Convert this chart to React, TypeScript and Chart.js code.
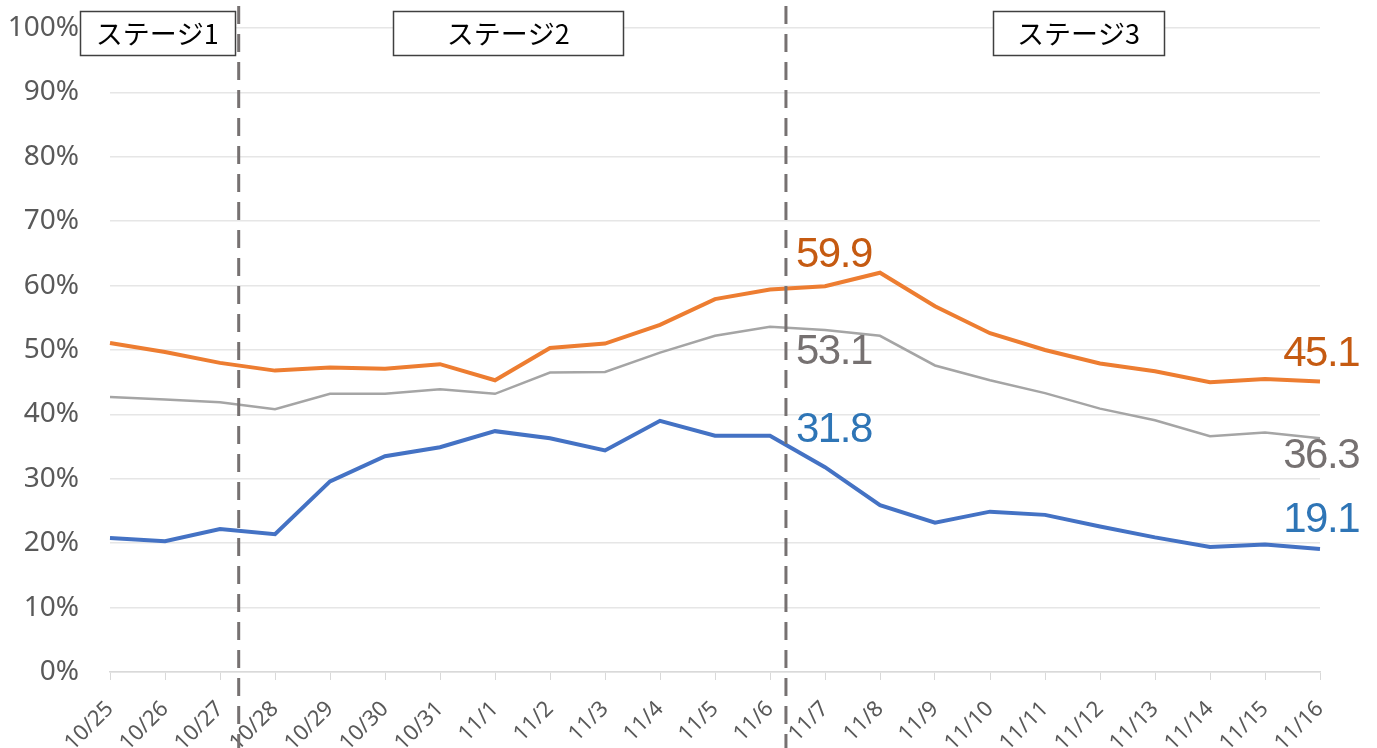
import React, { useEffect, useRef } from "react";
import { Chart, registerables } from "chart.js";

Chart.register(...registerables);

const categories = [
  "10/25", "10/26", "10/27", "10/28", "10/29", "10/30", "10/31",
  "11/1", "11/2", "11/3", "11/4", "11/5", "11/6", "11/7", "11/8",
  "11/9", "11/10", "11/11", "11/12", "11/13", "11/14", "11/15", "11/16",
];

const orangeValues = [
  51.1, 49.7, 48.0, 46.8, 47.3, 47.1, 47.8, 45.3, 50.3, 51.0, 53.9, 57.9,
  59.4, 59.9, 62.0, 56.8, 52.6, 50.0, 47.9, 46.7, 45.0, 45.5, 45.1,
];

const grayValues = [
  42.7, 42.3, 41.9, 40.8, 43.2, 43.2, 43.9, 43.2, 46.5, 46.6, 49.6, 52.2,
  53.6, 53.1, 52.2, 47.6, 45.3, 43.3, 40.9, 39.1, 36.6, 37.2, 36.3,
];

const blueValues = [
  20.8, 20.3, 22.2, 21.4, 29.6, 33.5, 34.9, 37.4, 36.3, 34.4, 39.0, 36.7,
  36.7, 31.8, 25.9, 23.2, 24.9, 24.4, 22.6, 20.9, 19.4, 19.8, 19.1,
];

const stageLabels = ["ステージ1", "ステージ2", "ステージ3"];

const calloutIndex = 13;
const lastIndex = categories.length - 1;

const overlayPlugin = {
  id: "overlay",
  afterDraw(chart: any) {
    const ctx = chart.ctx;
    const xs = chart.scales.x;
    const ys = chart.scales.y;
    ctx.save();

    // dashed stage dividers
    const dividers = [2.34, 12.29];
    ctx.strokeStyle = "#767171";
    ctx.lineWidth = 3;
    ctx.setLineDash([18, 10]);
    dividers.forEach((d) => {
      const x = xs.getPixelForValue(d);
      ctx.beginPath();
      ctx.moveTo(x, 6);
      ctx.lineTo(x, chart.height);
      ctx.stroke();
    });
    ctx.setLineDash([]);

    // stage boxes
    const boxes = [
      { c: 0.86, w: 155 },
      { c: 7.24, w: 230 },
      { c: 17.61, w: 171 },
    ];
    ctx.font = '27px "Noto Sans CJK JP"';
    ctx.textAlign = "center";
    ctx.textBaseline = "middle";
    boxes.forEach((b, i) => {
      const cx = xs.getPixelForValue(b.c);
      const x0 = Math.round(cx - b.w / 2) + 0.5;
      ctx.fillStyle = "#ffffff";
      ctx.fillRect(x0, 11.5, b.w, 44);
      ctx.strokeStyle = "#404040";
      ctx.lineWidth = 1.5;
      ctx.strokeRect(x0, 11.5, b.w, 44);
      ctx.fillStyle = "#000000";
      ctx.fillText(stageLabels[i], cx, 34);
    });

    // value callouts
    ctx.font = '42px "Liberation Sans"';
    (ctx as any).letterSpacing = "-1.5px";
    ctx.textBaseline = "alphabetic";
    const xc = xs.getPixelForValue(calloutIndex);
    const xl = xs.getPixelForValue(lastIndex);
    const callouts = [
      { v: orangeValues, color: "#C55A11", d1: -19, d2: -16 },
      { v: grayValues, color: "#767171", d1: 34, d2: 30 },
      { v: blueValues, color: "#2E75B6", d1: -25, d2: -17 },
    ];
    callouts.forEach((c) => {
      ctx.fillStyle = c.color;
      ctx.textAlign = "left";
      const y1 = ys.getPixelForValue(c.v[calloutIndex]) + c.d1;
      ctx.fillText(c.v[calloutIndex].toFixed(1), xc - 29, y1);
      ctx.textAlign = "right";
      const y2 = ys.getPixelForValue(c.v[lastIndex]) + c.d2;
      ctx.fillText(c.v[lastIndex].toFixed(1), xl + 39, y2);
    });
    ctx.restore();
  },
};

export default function App() {
  const ref = useRef<HTMLCanvasElement>(null);

  useEffect(() => {
    document.body.style.margin = "0";
    const canvas = ref.current;
    if (!canvas) return;
    const chart = new Chart(canvas, {
      type: "line",
      data: {
        labels: categories,
        datasets: [
          {
            label: "orange",
            data: orangeValues,
            borderColor: "#ED7D31",
            borderWidth: 4,
            pointRadius: 0,
            tension: 0,
          },
          {
            label: "gray",
            data: grayValues,
            borderColor: "#A5A5A5",
            borderWidth: 2.5,
            pointRadius: 0,
            tension: 0,
          },
          {
            label: "blue",
            data: blueValues,
            borderColor: "#4472C4",
            borderWidth: 4,
            pointRadius: 0,
            tension: 0,
          },
        ],
      },
      options: {
        responsive: false,
        animation: false,
        layout: { padding: { top: 28, right: 57, left: 0, bottom: 0 } },
        plugins: {
          legend: { display: false },
          tooltip: { enabled: false },
        },
        scales: {
          x: {
            offset: false,
            grid: {
              display: true,
              drawOnChartArea: false,
              drawTicks: true,
              tickLength: 8,
              color: "#D9D9D9",
            },
            border: { color: "#D9D9D9", width: 1.5 },
            ticks: {
              minRotation: 45,
              maxRotation: 45,
              autoSkip: false,
              color: "#595959",
              padding: 16,
              font: { family: '"Noto Sans"', size: 22 },
            },
            afterFit(scale: any) {
              scale.height = 76;
            },
          },
          y: {
            min: 0,
            max: 100,
            grid: { color: "#E6E6E6", drawTicks: false, lineWidth: 1.5 },
            border: { display: false },
            ticks: {
              stepSize: 10,
              padding: 31,
              color: "#595959",
              font: { family: '"Noto Sans"', size: 28 },
              callback: (v: any) => v + "%",
            },
            afterFit(scale: any) {
              scale.width = 110;
              scale.paddingTop = 0;
              scale.paddingBottom = 0;
            },
          },
        },
      },
      plugins: [overlayPlugin],
    });
    return () => chart.destroy();
  }, []);

  return (
    <div style={{ width: 1377, height: 748, background: "#fff" }}>
      <canvas ref={ref} width={1377} height={748} style={{ display: "block" }} />
    </div>
  );
}
